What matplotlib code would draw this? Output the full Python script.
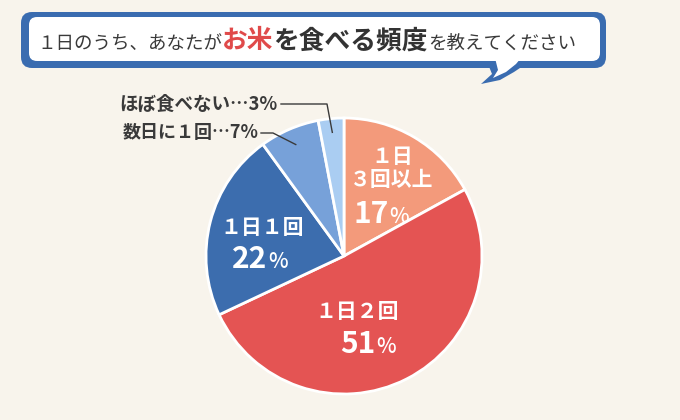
import numpy as np
import matplotlib
matplotlib.use("Agg")
import matplotlib.pyplot as plt
from matplotlib.patches import FancyBboxPatch, Polygon
from matplotlib.offsetbox import TextArea, HPacker, AnnotationBbox

# ---- data ----
categories = ["1日3回以上", "1日2回", "1日1回", "数日に1回", "ほぼ食べない"]
values = [17, 51, 22, 7, 3]
inner_names = ["１日\n３回以上", "１日２回", "１日１回"]
outer_names = ["数日に１回…", "ほぼ食べない…"]
colors = ["#F39A7B", "#E45453", "#3C6DAE", "#77A1D9", "#AACDF2"]

JP = ["Noto Sans CJK JP", "DejaVu Sans"]
BG = "#F8F4EC"
DARK = "#3A3A3A"
W, H = 680, 420

fig = plt.figure(figsize=(6.8, 4.2), dpi=100, facecolor=BG)

# ---- pie ----
cx, cy, R = 344, 256, 138
pax = fig.add_axes([(cx - R) / W, (H - cy - R) / H, 2 * R / W, 2 * R / H])
pax.pie(values, colors=colors, startangle=90, counterclock=False, radius=1,
        wedgeprops=dict(edgecolor="white", linewidth=2))
pax.set_xlim(-1, 1)
pax.set_ylim(-1, 1)
pax.axis("off")
pax.set_zorder(1)

base = fig.add_axes([0, 0, 1, 1])
base.set_xlim(0, W)
base.set_ylim(H, 0)
base.axis("off")
base.set_zorder(2)

# ---- speech bubble ----
blue = "#3A6CB0"
base.add_patch(FancyBboxPatch((21, 12), 585, 56, boxstyle="round,pad=0,rounding_size=11",
                              fc=blue, ec="none", zorder=1))
base.add_patch(Polygon([(488, 64), (492, 74), (481, 84), (500, 80), (514, 72), (526, 64)],
                       closed=True, fc=blue, ec="none", zorder=1))
base.add_patch(FancyBboxPatch((29, 17), 571, 44, boxstyle="round,pad=0,rounding_size=8",
                              fc="white", ec="none", zorder=2))
base.add_patch(Polygon([(495, 58), (498, 70), (493, 78), (506, 72), (516, 64), (521, 58)],
                       closed=True, fc="white", ec="none", zorder=2))

def ta(s, size, color=DARK, weight="normal"):
    return TextArea(s, textprops=dict(family=JP, fontsize=size, color=color, fontweight=weight))

title = HPacker(children=[ta("１日のうち、あなたが", 13.3),
                          ta("お米", 18.5, "#E04A4A", "bold"),
                          ta("を食べる頻度", 18.5, "#333333", "bold"),
                          ta("を教えてください", 13.3)],
                align="baseline", pad=0, sep=0)
base.add_artist(AnnotationBbox(title, (37, 41), xycoords="data", box_alignment=(0, 0.5),
                               frameon=False, zorder=5))

cum = np.cumsum([0] + values[:-1])
mid_ang = np.deg2rad(90 - (cum + np.array(values) / 2) * 3.6)

def pie_pt(i, r):
    return cx + r * R * np.cos(mid_ang[i]), cy - r * R * np.sin(mid_ang[i])

# ---- in-slice labels ----
def pct_box(v, big, small):
    return HPacker(children=[ta(str(v), big, "white", "bold"), ta("%", small, "white", "medium")],
                   align="baseline", pad=0, sep=0.5)

def place(box, xy):
    base.add_artist(AnnotationBbox(box, xy, xycoords="data", box_alignment=(0.5, 0.5),
                                   frameon=False, zorder=6))

place(TextArea(inner_names[0], textprops=dict(family=JP, fontsize=15, color="white",
                                              fontweight="bold", ha="center",
                                              multialignment="center", linespacing=1.12)),
      (392, 168))
place(pct_box(values[0], 21.5, 15), (381, 214))
place(ta(inner_names[1], 15, "white", "bold"), (357, 312))
place(pct_box(values[1], 21.5, 15), (368, 344))
place(ta(inner_names[2], 15, "white", "bold"), (262, 228))
place(pct_box(values[2], 21.5, 15), (260, 259))

# ---- outside labels with leader lines ----
base.text(259, 133, f"{outer_names[0]}{values[3]}%", family=JP, fontsize=13, fontweight="bold",
          color=DARK, ha="right", va="center", zorder=6)
p7 = pie_pt(3, 0.88)
base.plot([261, 273, p7[0]], [133, 133, p7[1]], color=DARK, lw=1, zorder=7)

base.text(278, 104, f"{outer_names[1]}{values[4]}%", family=JP, fontsize=13.3, fontweight="bold",
          color=DARK, ha="right", va="center", zorder=6)
p3 = pie_pt(4, 0.9)
base.plot([281, 327, p3[0]], [104, 104, p3[1]], color=DARK, lw=1, zorder=7)

fig.savefig("out.png", dpi=100, facecolor=BG)
